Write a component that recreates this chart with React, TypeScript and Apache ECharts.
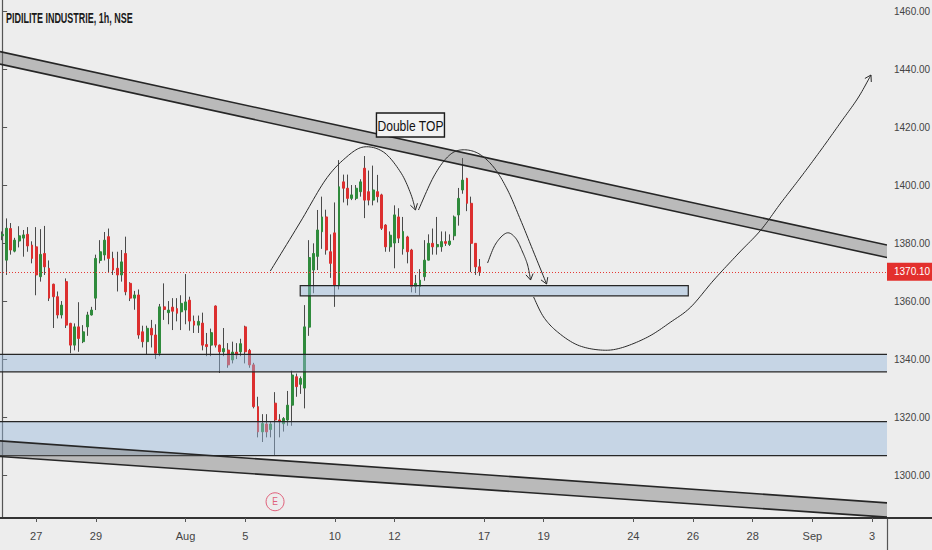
import React, { useEffect, useRef } from "react";
import * as echarts from "echarts";

const TITLE = "PIDILITE INDUSTRIE, 1h, NSE";
const FONT = "'Liberation Sans', Arial, sans-serif";

const tradingDays = [
  "07-23", "07-24", "07-27", "07-28", "07-29", "07-30", "07-31",
  "08-03", "08-04", "08-05", "08-06", "08-07",
  "08-10", "08-11", "08-12", "08-13", "08-14",
  "08-17", "08-18", "08-19", "08-20", "08-21",
  "08-24", "08-25", "08-26", "08-27", "08-28",
  "08-31", "09-01", "09-02", "09-03",
];
const sessionHours = ["09:15", "10:15", "11:15", "12:15", "13:15", "14:15", "15:15"];
const firstDayBarsShown = 1;
const lastDayBarsShown = 4;

const dayTickLabels: Record<string, string> = {
  "07-27": "27", "07-29": "29", "08-03": "Aug", "08-05": "5", "08-10": "10",
  "08-12": "12", "08-17": "17", "08-19": "19", "08-24": "24", "08-26": "26",
  "08-28": "28", "09-01": "Sep", "09-03": "3",
};

// [open, close, low, high]
const ohlc: number[][] = [
  [1382.5, 1383.0, 1381.0, 1384.0],
  [1374.1, 1385.1, 1369.0, 1388.5],
  [1385.0, 1377.6, 1376.0, 1386.9],
  [1377.2, 1381.0, 1376.8, 1381.8],
  [1380.7, 1382.5, 1378.5, 1385.8],
  [1381.7, 1382.8, 1375.3, 1384.5],
  [1383.0, 1379.0, 1377.0, 1385.5],
  [1379.3, 1374.7, 1373.0, 1380.6],
  [1378.7, 1369.0, 1362.0, 1385.5],
  [1368.4, 1376.1, 1366.7, 1384.8],
  [1376.4, 1371.8, 1369.0, 1385.9],
  [1371.3, 1361.0, 1360.0, 1374.0],
  [1365.8, 1361.5, 1350.7, 1366.0],
  [1361.5, 1355.2, 1354.0, 1363.3],
  [1355.2, 1358.6, 1354.0, 1360.0],
  [1366.7, 1351.7, 1350.7, 1367.8],
  [1352.3, 1344.8, 1342.0, 1352.5],
  [1344.8, 1351.1, 1343.0, 1352.3],
  [1351.1, 1347.1, 1342.5, 1359.6],
  [1346.0, 1349.4, 1345.5, 1351.7],
  [1351.1, 1355.2, 1348.0, 1356.3],
  [1355.2, 1356.9, 1355.0, 1358.0],
  [1361.0, 1374.7, 1356.9, 1376.0],
  [1374.0, 1377.0, 1373.0, 1381.0],
  [1375.9, 1381.0, 1374.0, 1383.8],
  [1382.2, 1374.7, 1370.0, 1385.0],
  [1374.7, 1370.7, 1369.0, 1377.0],
  [1371.3, 1369.0, 1363.3, 1377.0],
  [1369.0, 1373.5, 1366.7, 1377.6],
  [1376.4, 1363.2, 1362.0, 1382.2],
  [1366.1, 1361.0, 1360.0, 1366.5],
  [1361.0, 1362.1, 1357.0, 1363.5],
  [1362.1, 1348.3, 1347.0, 1364.0],
  [1349.4, 1346.0, 1344.0, 1351.5],
  [1346.0, 1350.6, 1341.7, 1351.5],
  [1350.6, 1348.3, 1344.0, 1353.5],
  [1348.3, 1342.0, 1340.0, 1352.0],
  [1342.0, 1358.0, 1341.0, 1359.0],
  [1358.0, 1357.1, 1353.5, 1366.1],
  [1356.0, 1356.9, 1352.0, 1360.0],
  [1357.9, 1356.5, 1350.0, 1361.0],
  [1357.4, 1355.8, 1353.0, 1361.0],
  [1356.3, 1359.2, 1350.0, 1362.0],
  [1356.9, 1359.7, 1352.0, 1369.3],
  [1360.3, 1353.1, 1349.8, 1361.5],
  [1353.1, 1351.7, 1349.0, 1355.0],
  [1351.7, 1353.0, 1349.0, 1355.0],
  [1352.4, 1344.8, 1343.0, 1356.0],
  [1345.0, 1344.3, 1341.0, 1349.0],
  [1344.8, 1349.1, 1341.0, 1350.5],
  [1358.3, 1344.8, 1344.0, 1358.5],
  [1344.8, 1342.5, 1335.2, 1345.0],
  [1342.5, 1343.6, 1341.0, 1350.7],
  [1343.1, 1338.0, 1337.0, 1345.5],
  [1339.7, 1342.4, 1338.5, 1346.0],
  [1342.4, 1341.4, 1340.0, 1345.5],
  [1342.5, 1345.3, 1341.0, 1347.0],
  [1351.1, 1342.5, 1338.5, 1351.5],
  [1343.0, 1338.0, 1337.0, 1343.5],
  [1338.0, 1323.6, 1323.0, 1338.7],
  [1323.6, 1314.9, 1313.0, 1327.0],
  [1314.9, 1317.8, 1311.4, 1321.0],
  [1317.6, 1314.9, 1313.0, 1321.0],
  [1315.7, 1317.6, 1313.0, 1318.5],
  [1324.8, 1319.0, 1306.9, 1328.6],
  [1319.0, 1318.4, 1313.0, 1321.0],
  [1317.7, 1319.5, 1315.0, 1320.0],
  [1319.0, 1324.1, 1317.0, 1329.0],
  [1324.1, 1334.5, 1317.0, 1336.0],
  [1333.9, 1330.5, 1327.0, 1335.0],
  [1331.3, 1333.3, 1328.0, 1334.0],
  [1330.0, 1351.1, 1323.0, 1358.6],
  [1351.0, 1375.0, 1348.0, 1381.0],
  [1370.7, 1376.4, 1362.7, 1379.9],
  [1375.4, 1384.5, 1370.7, 1391.4],
  [1383.9, 1389.0, 1378.0, 1396.0],
  [1389.0, 1377.6, 1376.0, 1391.5],
  [1377.0, 1373.0, 1368.0, 1383.0],
  [1383.5, 1365.5, 1358.0, 1394.0],
  [1365.5, 1399.4, 1364.0, 1408.6],
  [1401.1, 1398.9, 1394.0, 1403.6],
  [1398.9, 1395.4, 1393.0, 1403.6],
  [1395.4, 1396.6, 1394.8, 1400.0],
  [1395.4, 1398.9, 1394.8, 1400.0],
  [1397.7, 1401.1, 1396.0, 1402.0],
  [1405.8, 1394.8, 1388.6, 1410.0],
  [1397.7, 1394.8, 1393.0, 1405.0],
  [1394.8, 1398.3, 1393.0, 1406.7],
  [1397.7, 1396.0, 1394.0, 1403.5],
  [1396.6, 1385.1, 1384.5, 1397.0],
  [1386.2, 1378.7, 1377.0, 1386.5],
  [1378.7, 1382.7, 1377.0, 1384.0],
  [1380.0, 1389.7, 1371.3, 1393.0],
  [1389.0, 1381.7, 1380.0, 1392.0],
  [1378.0, 1384.0, 1376.0, 1389.0],
  [1382.1, 1377.0, 1373.0, 1382.5],
  [1377.6, 1365.0, 1363.0, 1378.0],
  [1365.0, 1366.1, 1362.8, 1369.0],
  [1365.0, 1367.2, 1362.0, 1371.0],
  [1368.4, 1374.1, 1367.0, 1381.0],
  [1374.1, 1379.9, 1374.0, 1383.0],
  [1379.9, 1378.7, 1376.0, 1385.0],
  [1378.7, 1379.5, 1376.0, 1389.0],
  [1378.7, 1380.5, 1377.0, 1384.0],
  [1380.5, 1379.9, 1379.0, 1384.0],
  [1379.5, 1380.7, 1379.0, 1383.0],
  [1382.5, 1389.0, 1381.0, 1389.5],
  [1389.7, 1395.4, 1386.0, 1399.0],
  [1398.3, 1401.7, 1397.0, 1409.3],
  [1402.3, 1393.7, 1391.0, 1402.5],
  [1393.7, 1379.9, 1370.0, 1396.0],
  [1379.9, 1371.8, 1369.0, 1380.0],
  [1371.8, 1370.1, 1368.7, 1374.5],
];

const lastPrice = 1370.1;
const yTicks = [1300, 1320, 1340, 1360, 1380, 1400, 1420, 1440, 1460];
const yMin = 1285.2;
const yMax = 1463.8;

// drawings in [bar index, price]
const upperChannelTop = [[-0.5, 1446.0], [207.5, 1379.3]];
const upperChannelBottom = [[-0.5, 1441.7], [207.5, 1375.0]];
const lowerChannelTop = [[-0.5, 1311.8], [207.5, 1290.4]];
const lowerChannelBottom = [[-0.5, 1306.4], [207.5, 1285.5]];
// [fromIndex, toIndex, lowPrice, highPrice]
const zones = [
  [69.9, 160.9, 1361.8, 1365.3],
  [-3, 210, 1335.6, 1341.6],
  [-3, 210, 1306.7, 1318.4],
];
const curveFirstTop = [
  [62.89, 1370.35], [69.93, 1387.25], [75.8, 1401.73], [80.49, 1409.32], [84.72, 1413.11],
  [89.42, 1411.39], [93.41, 1404.49], [95.75, 1397.25], [96.93, 1391.39],
];
const curveSecondTop = [
  [97.63, 1391.39], [101.15, 1402.77], [104.44, 1409.66], [107.49, 1412.08], [111.48, 1411.04],
  [115.24, 1406.21], [118.53, 1398.28], [121.58, 1387.94], [124.63, 1376.9], [127.68, 1365.87],
];
const curvePullback = [
  [113.83, 1373.11], [115.71, 1379.66], [118.29, 1383.46], [120.4, 1381.73],
  [122.05, 1376.9], [123.22, 1372.42], [123.92, 1367.25],
];
const curveRecovery = [
  [124.63, 1361.39], [126.98, 1354.49], [130.26, 1349.32], [134.96, 1344.83], [140.36, 1343.11],
  [145.05, 1343.8], [151.39, 1347.59], [156.79, 1352.77], [161.49, 1357.94], [166.89, 1367.25],
  [172.76, 1376.56], [177.92, 1384.49], [182.61, 1393.8], [187.31, 1402.77], [192.01, 1412.08],
  [196.7, 1421.73], [200.69, 1430.01], [203.74, 1437.94],
];
const patternLabel = "Double TOP";
const patternLabelAt = [95.75, 1420.7];
const earningsLabel = "E";
const earningsAt = [64, 1290.8];

const categories: string[] = [];
tradingDays.forEach((d, di) => {
  let hrs = sessionHours;
  if (di === 0) hrs = sessionHours.slice(sessionHours.length - firstDayBarsShown);
  if (di === tradingDays.length - 1) hrs = sessionHours.slice(0, lastDayBarsShown);
  hrs.forEach((h) => categories.push(`${d} ${h}`));
});

const isLabelled = (_i: number, v: string) =>
  v.endsWith(sessionHours[0]) && dayTickLabels[v.slice(0, 5)] !== undefined;

function smoothPoints(pts: number[][]): number[][] {
  const out: number[][] = [pts[0]];
  for (let i = 0; i < pts.length - 1; i++) {
    const p0 = pts[i - 1] || pts[i];
    const p1 = pts[i];
    const p2 = pts[i + 1];
    const p3 = pts[i + 2] || p2;
    const c1 = [p1[0] + (p2[0] - p0[0]) / 6, p1[1] + (p2[1] - p0[1]) / 6];
    const c2 = [p2[0] - (p3[0] - p1[0]) / 6, p2[1] - (p3[1] - p1[1]) / 6];
    for (let s = 1; s <= 12; s++) {
      const t = s / 12;
      const u = 1 - t;
      out.push([
        u * u * u * p1[0] + 3 * u * u * t * c1[0] + 3 * u * t * t * c2[0] + t * t * t * p2[0],
        u * u * u * p1[1] + 3 * u * u * t * c1[1] + 3 * u * t * t * c2[1] + t * t * t * p2[1],
      ]);
    }
  }
  return out;
}

function arrowHead(pts: number[][]): number[][] {
  const n = pts.length;
  const [tx, ty] = pts[n - 1];
  const [px, py] = pts[n - 3] || pts[n - 2];
  const ang = Math.atan2(ty - py, tx - px);
  const L = 7;
  const A = 0.55;
  return [
    [tx - L * Math.cos(ang - A), ty - L * Math.sin(ang - A)],
    [tx, ty],
    [tx - L * Math.cos(ang + A), ty - L * Math.sin(ang + A)],
  ];
}

export default function App() {
  const ref = useRef<HTMLDivElement>(null);
  useEffect(() => {
    if (!ref.current) return;
    const chart = echarts.init(ref.current, undefined, { renderer: "svg" });
    const lineColor = "#262626";

    const renderDrawings = (_params: any, api: any) => {
      const pt = (p: number[]) => api.coord(p);
      const children: any[] = [];
      zones.forEach(([x0, x1, lo, hi]) => {
        const a = pt([x0, hi]);
        const b = pt([x1, lo]);
        children.push({
          type: "rect",
          shape: { x: a[0], y: a[1], width: b[0] - a[0], height: b[1] - a[1] },
          style: { fill: "rgba(150,185,220,0.45)", stroke: lineColor, lineWidth: 1.2 },
        });
      });
      [[upperChannelTop, upperChannelBottom], [lowerChannelTop, lowerChannelBottom]].forEach(([top, bot]) => {
        const t = top.map(pt);
        const b = bot.map(pt);
        children.push({
          type: "polygon",
          shape: { points: [t[0], t[1], b[1], b[0]] },
          style: { fill: "rgba(110,110,110,0.4)", stroke: "none" },
        });
        children.push({ type: "polyline", shape: { points: t }, style: { stroke: lineColor, lineWidth: 1.6, fill: "none" } });
        children.push({ type: "polyline", shape: { points: b }, style: { stroke: lineColor, lineWidth: 1.6, fill: "none" } });
      });
      [curveFirstTop, curveSecondTop, curvePullback, curveRecovery].forEach((c) => {
        const px = smoothPoints(c.map(pt));
        children.push({ type: "polyline", shape: { points: px }, style: { stroke: "#2a2a2a", lineWidth: 1, fill: "none" } });
        children.push({ type: "polyline", shape: { points: arrowHead(px) }, style: { stroke: "#2a2a2a", lineWidth: 1, fill: "none" } });
      });
      const lc = pt(patternLabelAt);
      children.push({
        type: "rect",
        shape: { x: lc[0] - 34, y: lc[1] - 12, width: 68, height: 24 },
        style: { fill: "#f2f2f2", stroke: "#1a1a1a", lineWidth: 1.4 },
      });
      children.push({
        type: "text",
        x: lc[0],
        y: lc[1] + 0.5,
        scaleX: 0.78,
        style: { text: patternLabel, fill: "#111", fontSize: 15.5, fontFamily: FONT, align: "center", verticalAlign: "middle" },
      });
      const ec = pt(earningsAt);
      children.push({ type: "circle", shape: { cx: ec[0], cy: ec[1], r: 9 }, style: { fill: "none", stroke: "#e0607a", lineWidth: 1 } });
      children.push({
        type: "text",
        x: ec[0],
        y: ec[1] + 0.5,
        scaleX: 0.85,
        style: { text: earningsLabel, fill: "#e0607a", fontSize: 10, fontFamily: FONT, align: "center", verticalAlign: "middle" },
      });
      return { type: "group", children };
    };

    chart.setOption({
      animation: false,
      backgroundColor: "#ededed",
      textStyle: { fontFamily: FONT },
      grid: { left: 0, right: 45, top: 0, bottom: 32, containLabel: false, outerBoundsMode: "none" },
      xAxis: [
        {
          type: "category",
          data: categories,
          boundaryGap: true,
          axisLine: { show: true, lineStyle: { color: "#333", width: 2 } },
          axisTick: { show: true, alignWithLabel: true, interval: isLabelled, length: 4, lineStyle: { color: "#555" } },
          axisLabel: {
            interval: isLabelled,
            formatter: (v: string) => dayTickLabels[v.slice(0, 5)] || "",
            color: "#444",
            fontSize: 11,
            margin: 12,
            fontFamily: FONT,
          },
          splitLine: { show: false },
        },
        { type: "value", min: -0.5, max: 207.5, show: false },
      ],
      yAxis: {
        type: "value",
        position: "right",
        min: yMin,
        max: yMax,
        scale: true,
        axisLine: { show: true, lineStyle: { color: "#555", width: 1.2 } },
        axisTick: { show: true, length: 5, customValues: yTicks, lineStyle: { color: "#555" } },
        axisLabel: {
          customValues: yTicks,
          formatter: (v: number) => v.toFixed(2),
          color: "#444",
          fontSize: 10,
          margin: 7,
          fontFamily: FONT,
        },
        splitLine: { show: false },
      },
      series: [
        {
          name: "wicks",
          type: "candlestick",
          xAxisIndex: 0,
          data: ohlc,
          barWidth: 1,
          z: 2,
          silent: true,
          itemStyle: { color: "#4a4a4a", color0: "#4a4a4a", borderColor: "#4a4a4a", borderColor0: "#4a4a4a", borderWidth: 1 },
        },
        {
          name: "bodies",
          type: "candlestick",
          xAxisIndex: 0,
          data: ohlc.map(([o, c]) => [o, c, Math.min(o, c), Math.max(o, c)]),
          barWidth: 2.4,
          z: 3,
          silent: true,
          itemStyle: { color: "#2f8b3c", color0: "#dc2f2f", borderColor: "#2f8b3c", borderColor0: "#dc2f2f", borderWidth: 1 },
          markLine: {
            symbol: "none",
            silent: true,
            animation: false,
            data: [{ yAxis: lastPrice }],
            lineStyle: { color: "#e53935", type: [1, 2], width: 1 },
            label: {
              show: true,
              position: "end",
              distance: 0,
              formatter: lastPrice.toFixed(2),
              color: "#fff",
              backgroundColor: "#e3302d",
              padding: [4, 4, 4, 7],
              fontSize: 10,
              fontFamily: FONT,
            },
          },
        },
        {
          name: "drawings",
          type: "custom",
          xAxisIndex: 1,
          yAxisIndex: 0,
          clip: true,
          silent: true,
          z: 5,
          data: [[0, yMin]],
          renderItem: renderDrawings,
        },
      ],
      graphic: [
        {
          type: "text",
          x: 6,
          y: 11,
          scaleX: 0.62,
          style: { text: TITLE, fill: "#1a1a1a", fontSize: 14.5, fontWeight: "bold", fontFamily: FONT },
        },
        { type: "line", shape: { x1: 887, y1: 518, x2: 932, y2: 518 }, style: { stroke: "#333", lineWidth: 2 } },
        { type: "line", shape: { x1: 887.5, y1: 518, x2: 887.5, y2: 550 }, style: { stroke: "#555", lineWidth: 1.2 } },
      ],
    });
    return () => chart.dispose();
  }, []);
  return <div ref={ref} style={{ position: "absolute", left: 0, top: 0, width: 932, height: 550 }} />;
}
